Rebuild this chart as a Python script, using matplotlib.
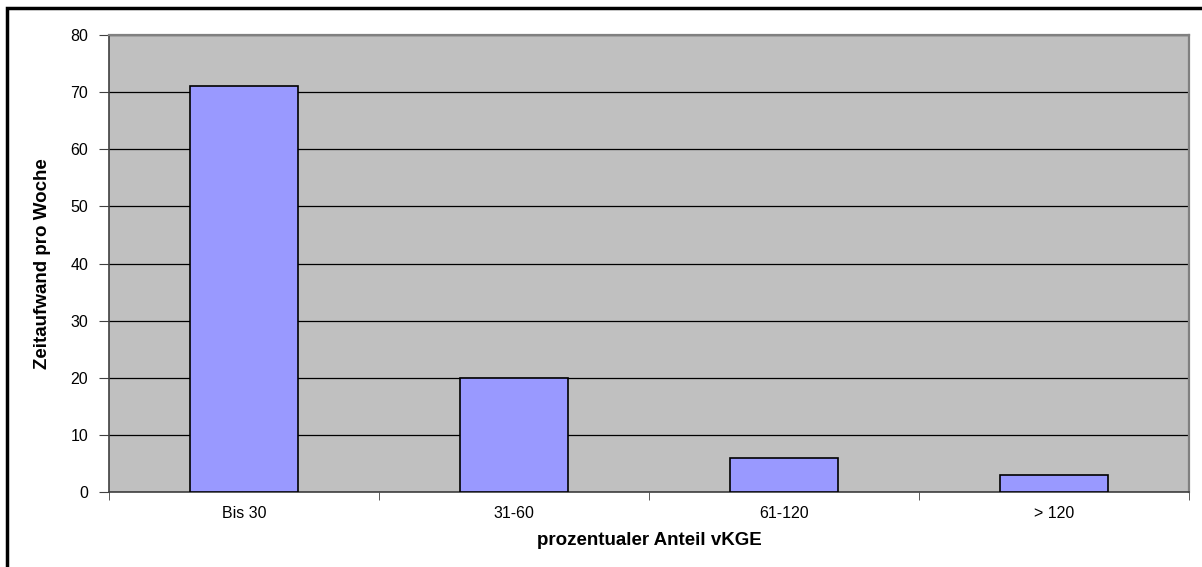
import numpy as np
import matplotlib.pyplot as plt
from matplotlib.patches import Rectangle

plt.rcParams['font.family'] = ['Liberation Sans', 'DejaVu Sans']

# data
categories = ['Bis 30', '31-60', '61-120', '> 120']
values = [71, 20, 6, 3]
y_ticks = [0, 10, 20, 30, 40, 50, 60, 70, 80]

fig = plt.figure(figsize=(12.02, 5.67), dpi=100)
ax = fig.add_axes([109/1202, 75/567, 1080/1202, 457/567])

x = np.arange(len(categories))
ax.bar(x, values, width=0.4, color='#9999FF', edgecolor='black', linewidth=1.2, zorder=3)

ax.set_facecolor('#C0C0C0')
ax.set_xlim(-0.5, len(categories) - 0.5)
ax.set_ylim(0, 80)
ax.set_yticks(y_ticks)
ax.yaxis.grid(True, color='black', linewidth=0.9, zorder=1)
ax.set_axisbelow(True)

ax.set_xticks(x)
ax.set_xticklabels(categories, fontsize=11.5)
ax.tick_params(axis='x', which='major', length=0, pad=10)
ax.set_xticks(np.arange(len(categories) + 1) - 0.5, minor=True)
ax.tick_params(axis='x', which='minor', length=6, color='#404040')
ax.tick_params(axis='y', labelsize=11.5, length=7, color='#404040', pad=8)

for s in ['left', 'bottom']:
    ax.spines[s].set_color('#404040')
    ax.spines[s].set_linewidth(1.2)
for s in ['top', 'right']:
    ax.spines[s].set_color('#808080')
    ax.spines[s].set_linewidth(1.6)

ax.set_xlabel('prozentualer Anteil vKGE', fontsize=13.5, fontweight='bold', labelpad=8)
ax.set_ylabel('Zeitaufwand pro Woche', fontsize=13.5, fontweight='bold', labelpad=14)

# outer chart frame (only top and left visible in the picture)
fig.add_artist(Rectangle((7/1202, -0.1), 1.2, 0.1 + (567 - 8)/567, transform=fig.transFigure,
                         fill=False, edgecolor='black', linewidth=2.5))

plt.savefig('out.png', dpi=100)
